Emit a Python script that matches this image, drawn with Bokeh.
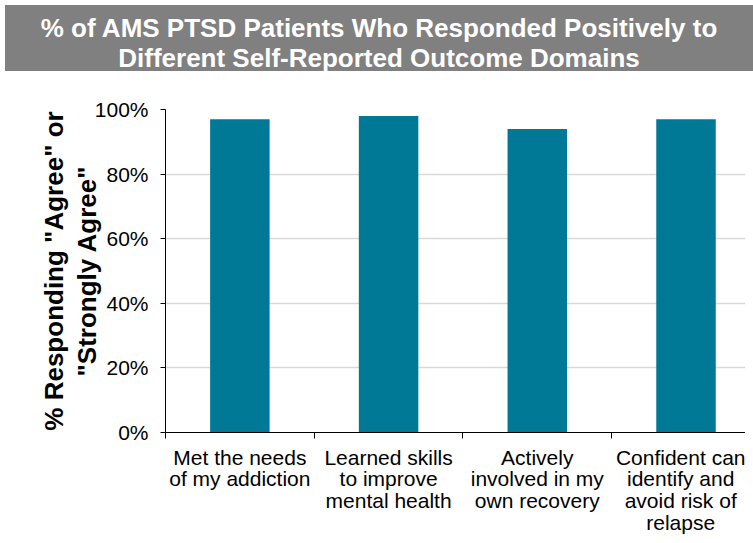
from bokeh.plotting import figure
from bokeh.models import Range1d, FixedTicker, Div, ColumnDataSource
from bokeh.layouts import column
from bokeh.embed import file_html
from bokeh.resources import INLINE

title_lines = ["% of AMS PTSD Patients Who Responded Positively to",
               "Different Self-Reported Outcome Domains"]
categories = ["Met the needs\nof my addiction",
              "Learned skills\nto improve\nmental health",
              "Actively\ninvolved in my\nown recovery",
              "Confident can\nidentify and\navoid risk of\nrelapse"]
values = [97, 98, 94, 97]
y_ticks = [0, 20, 40, 60, 80, 100]
y_tick_labels = ["0%", "20%", "40%", "60%", "80%", "100%"]
y_title = '% Responding "Agree" or\n"Strongly Agree"'

FONT = "Liberation Sans"
BAR = "#007996"

xs = [i + 0.5 for i in range(len(categories))]
src = ColumnDataSource(dict(x=xs, top=values))

div = Div(text="<br>".join(title_lines), width=748, height=66,
          styles={"background-color": "#808080", "color": "white",
                  "font-family": FONT, "font-weight": "bold",
                  "font-size": "26px", "line-height": "30px",
                  "text-align": "center", "padding-top": "8px",
                  "box-sizing": "border-box"})

p = figure(width=745, height=461, output_backend="svg", toolbar_location=None,
           x_range=Range1d(0, 3.9), y_range=Range1d(0, 100),
           min_border_left=165, min_border_right=0, min_border_top=33,
           min_border_bottom=101, outline_line_color=None)

p.vbar(x="x", top="top", width=0.4, source=src, fill_color=BAR, line_color=None)

# y axis
p.yaxis.ticker = FixedTicker(ticks=y_ticks)
p.yaxis.major_label_overrides = {t: l for t, l in zip(y_ticks, y_tick_labels)}
p.yaxis.major_label_text_font = FONT
p.yaxis.major_label_text_font_size = "21px"
p.yaxis.major_label_text_color = "black"
p.yaxis.major_label_standoff = 12
p.yaxis.major_tick_in = 0
p.yaxis.major_tick_out = 5
p.yaxis.minor_tick_line_color = None
p.yaxis.axis_line_color = "black"
p.yaxis.major_tick_line_color = "black"
p.yaxis.axis_label = y_title
p.yaxis.axis_label_text_font = FONT
p.yaxis.axis_label_text_font_style = "bold"
p.yaxis.axis_label_text_font_size = "26px"
p.yaxis.axis_label_text_line_height = 1.1
p.yaxis.axis_label_text_color = "black"
p.yaxis.axis_label_standoff = -10

# x axis
p.xaxis.ticker = FixedTicker(ticks=xs, minor_ticks=[0, 1, 2, 3])
p.xaxis.major_label_overrides = {x: c for x, c in zip(xs, categories)}
p.xaxis.major_label_text_font = FONT
p.xaxis.major_label_text_font_size = "21px"
p.xaxis.major_label_text_line_height = 0.95
p.xaxis.major_label_text_color = "black"
p.xaxis.major_label_standoff = 7
p.xaxis.major_tick_line_color = None
p.xaxis.minor_tick_in = 0
p.xaxis.minor_tick_out = 6
p.xaxis.minor_tick_line_color = "black"
p.xaxis.axis_line_color = "black"

p.xgrid.grid_line_color = None
p.ygrid.ticker = FixedTicker(ticks=y_ticks)
p.ygrid.grid_line_color = "#d9d9d9"
p.ygrid.grid_line_width = 1.5

layout = column(div, p, spacing=0)
open("out.html", "w").write(file_html(layout, INLINE))
